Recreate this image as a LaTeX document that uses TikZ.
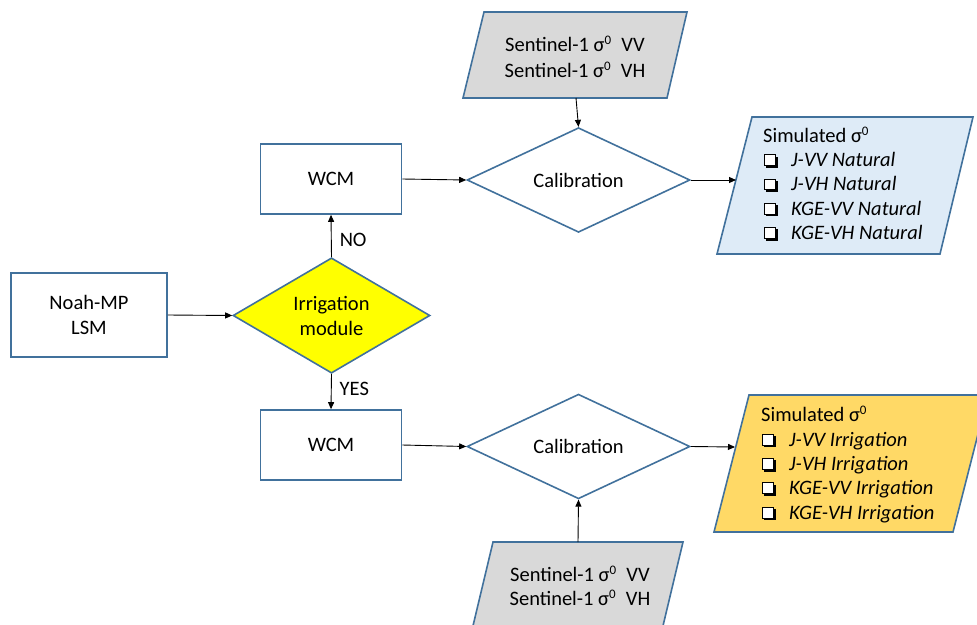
\documentclass[tikz,border=0pt]{standalone}
\usepackage{fontspec}
\setmainfont{Carlito}
\usetikzlibrary{shapes.geometric,arrows.meta}

\definecolor{edgeblue}{HTML}{41719C}
\definecolor{inputgray}{HTML}{D9D9D9}
\definecolor{natblue}{HTML}{DEEBF7}
\definecolor{irrgold}{HTML}{FFD966}
\definecolor{decyellow}{HTML}{FFFF00}

% shadowed check box used in the output lists
\newcommand{\shadowbox}{\tikz[baseline=0pt,x=1pt,y=1pt]{%
  \fill[black] (2.2,-1.2) rectangle (13.4,10);%
  \draw[black,line width=1pt,fill=white] (0.5,1) rectangle (11.2,11.7);}}
\newcommand{\sig}{σ\raisebox{0.33em}{\fontsize{13}{13}\selectfont 0}}

\tikzset{
  outline/.style={draw=edgeblue,line width=1.6pt},
  procbox/.style={outline,fill=white,rectangle,minimum width=141pt,minimum height=70pt,
    inner sep=0pt,align=center},
  decision/.style={outline,diamond,inner sep=0pt,align=center},
  arr/.style={line width=0.9pt,-{Triangle[length=7pt,width=6pt]}},
  txt/.style={inner sep=0pt,anchor=base west},
}

\begin{document}
\begin{tikzpicture}[x=1pt,y=-1pt,font=\fontsize{20.5}{25}\selectfont]
\useasboundingbox (0,0) rectangle (977,624);
\clip (0,0) rectangle (977,624);

% ---- input data (parallelograms) ----
\draw[outline,fill=inputgray] (484,12) -- (687,12) -- (667,98) -- (463,98) -- cycle;
\coordinate (s1b) at (576,98);
\node[inner sep=0pt,align=center,font=\fontsize{20.5}{26}\selectfont] (s1) at (575,57)
  {Sentinel-1 \sig\hspace{0.5em}VV\\Sentinel-1 \sig\hspace{0.5em}VH};

\draw[outline,fill=inputgray] (493,542) -- (683,542) -- (662,630) -- (472,630) -- cycle;
\coordinate (s2t) at (578,542);
\node[inner sep=0pt,align=center,font=\fontsize{20.5}{24}\selectfont] (s2) at (580,586)
  {Sentinel-1 \sig\hspace{0.5em}VV\\Sentinel-1 \sig\hspace{0.5em}VH};

% ---- outputs (parallelograms) ----
\draw[outline,fill=natblue] (752,117) -- (973,117) -- (940,254) -- (717,254) -- cycle;
\coordinate (o1w) at (736,180);
\draw[outline,fill=irrgold] (749,395) -- (988,395) -- (953,532) -- (714,532) -- cycle;
\coordinate (o2w) at (735,447);

\node[txt] (n0) at (763,142.5) {Simulated \sig};
\foreach \i/\y/\t in {1/166.5/J-VV Natural,2/190.8/J-VH Natural,3/215/KGE-VV Natural,4/239.3/KGE-VH Natural}{
  \node[txt] (nb\i) at (764,\y) {\shadowbox};
  \node[txt] (n\i) at (791,\y) {\textit{\t}};
}
\node[txt] (m0) at (761,421) {Simulated \sig};
\foreach \i/\y/\t in {1/446/J-VV Irrigation,2/470.3/J-VH Irrigation,3/494.6/KGE-VV Irrigation,4/519/KGE-VH Irrigation}{
  \node[txt] (mb\i) at (762,\y) {\shadowbox};
  \node[txt] (m\i) at (789,\y) {\textit{\t}};
}

% ---- process boxes ----
\node[procbox,minimum width=156pt,minimum height=84pt] (noah) at (89,315) {Noah-MP\\LSM};
\node[procbox] (wcm1) at (331,179) {WCM};
\node[procbox] (wcm2) at (331,445) {WCM};

% ---- decisions ----
\node[decision,fill=decyellow,minimum width=197pt,minimum height=100pt] (irr) at (331.5,315.5) {Irrigation\\module};
\node[decision,fill=white,minimum width=223pt,minimum height=100pt] (cal1) at (578.5,180) {Calibration};
\node[decision,fill=white,minimum width=223pt,minimum height=101pt] (cal2) at (578.5,446.5) {Calibration};

% ---- connectors ----
\draw[arr] (noah.east) -- (irr.west);
\draw[arr] (irr.north) -- (wcm1.south) node[pos=0.4,right=8pt,inner sep=0pt] (no) {NO};
\draw[arr] (irr.south) -- (wcm2.north) node[pos=0.42,right=8pt,inner sep=0pt] (yes) {YES};
\draw[arr] (wcm1.east) -- (cal1.west);
\draw[arr] (wcm2.east) -- (cal2.west);
\draw[arr] (s1b) -- (cal1.north);
\draw[arr] (s2t) -- (cal2.south);
\draw[arr] (cal1.east) -- (o1w);
\draw[arr] (cal2.east) -- (o2w);
\end{tikzpicture}
\end{document}
